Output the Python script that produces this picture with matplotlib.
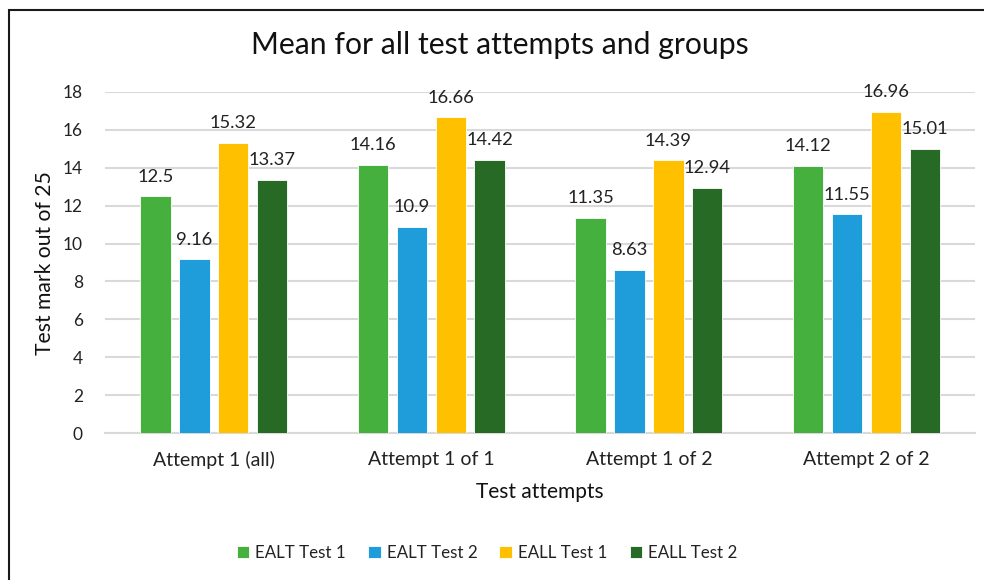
import matplotlib
matplotlib.use("Agg")
import matplotlib.pyplot as plt
import numpy as np
from matplotlib.patches import Rectangle

plt.rcParams['font.family'] = ['Lato', 'DejaVu Sans']

categories = ["Attempt 1 (all)", "Attempt 1 of 1", "Attempt 1 of 2", "Attempt 2 of 2"]
series_names = ["EALT Test 1", "EALT Test 2", "EALL Test 1", "EALL Test 2"]
ealt_test1 = [12.5, 14.16, 11.35, 14.12]
ealt_test2 = [9.16, 10.9, 8.63, 11.55]
eall_test1 = [15.32, 16.66, 14.39, 16.96]
eall_test2 = [13.37, 14.42, 12.94, 15.01]
yticks = [0, 2, 4, 6, 8, 10, 12, 14, 16, 18]

series = [ealt_test1, ealt_test2, eall_test1, eall_test2]
colors = ["#46B03E", "#1F9CDA", "#FFC000", "#276A25"]

fig = plt.figure(figsize=(9.84, 5.8), dpi=100)
ax = fig.add_axes([0.1067, 0.2534, 0.8843, 0.588])

x = np.arange(len(categories))
step = 0.179
width = 0.14
for i, (vals, col, name) in enumerate(zip(series, colors, series_names)):
    pos = x + (i - 1.5) * step
    bars = ax.bar(pos, vals, width, color=col, label=name, zorder=3,
                  edgecolor="white", linewidth=0.6)
    for b, v in zip(bars, vals):
        ax.annotate(f"{v:g}", (b.get_x() + b.get_width() / 2, v),
                    xytext=(0, 10.5), textcoords="offset points",
                    ha="center", va="baseline", fontsize=13.2, color="#222222")

ax.set_xlim(-0.5, len(categories) - 0.5)
ax.set_ylim(0, 18)
ax.set_yticks(yticks)
ax.set_xticks(x)
ax.set_xticklabels(categories)
ax.grid(axis="y", color="#D9D9D9", linewidth=1.5, zorder=0)
for s in ["top", "right", "left"]:
    ax.spines[s].set_visible(False)
ax.spines["bottom"].set_color("#D9D9D9")
ax.spines["bottom"].set_linewidth(1.5)
ax.tick_params(axis="both", length=0, colors="#222222")
ax.tick_params(axis="y", pad=16, labelsize=12.5)
ax.tick_params(axis="x", pad=13, labelsize=14)

fig.text(0.508, 0.922, "Mean for all test attempts and groups",
         ha="center", va="center", fontsize=21.7, color="#111111")
fig.text(0.046, 0.547, "Test mark out of 25", rotation=90,
         ha="center", va="center", fontsize=15.2, color="#111111")
fig.text(0.549, 0.152, "Test attempts", ha="center", va="center",
         fontsize=15, color="#111111")

leg = fig.legend(loc="center", bbox_to_anchor=(0.495, 0.047), ncol=4,
                 frameon=False, fontsize=12.2, handlelength=0.75,
                 handleheight=0.75, handletextpad=0.35, columnspacing=1.3)
for t in leg.get_texts():
    t.set_color("#222222")

fig.patches.append(Rectangle((9 / 984, -0.1), 1.2, 1.1 - 10 / 580,
                             transform=fig.transFigure, fill=False,
                             edgecolor="#1a1a1a", linewidth=1.5))

fig.savefig("out.png", dpi=100)
